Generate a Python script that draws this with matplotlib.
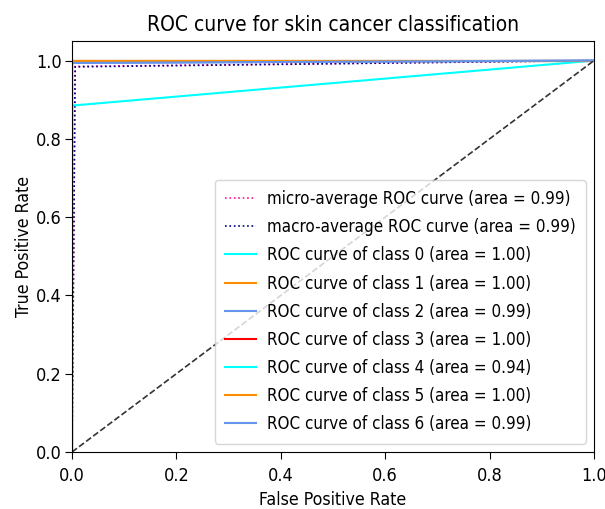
import matplotlib
matplotlib.use("Agg")
import matplotlib.pyplot as plt

plt.rcParams['font.family'] = ['DejaVu Sans']
plt.rcParams['font.stretch'] = 'condensed'

title = "ROC curve for skin cancer classification"
xlabel = "False Positive Rate"
ylabel = "True Positive Rate"

micro_fpr = [0.0, 0.006, 1.0]
micro_tpr = [0.0, 0.985, 1.0]
micro_auc = 0.99
macro_fpr = [0.0, 0.006, 1.0]
macro_tpr = [0.0, 0.984, 1.0]
macro_auc = 0.99

class_fpr = [
    [0.0, 0.0, 1.0],
    [0.0, 0.0, 1.0],
    [0.0, 0.0, 1.0],
    [0.0, 0.0, 1.0],
    [0.0, 0.0, 1.0],
    [0.0, 0.0, 1.0],
    [0.0, 0.0, 1.0],
]
class_tpr = [
    [0.0, 1.0, 1.0],
    [0.0, 1.0, 1.0],
    [0.0, 0.994, 1.0],
    [0.0, 1.0, 1.0],
    [0.0, 0.885, 1.0],
    [0.0, 1.0, 1.0],
    [0.0, 0.994, 1.0],
]
class_auc = [1.00, 1.00, 0.99, 1.00, 0.94, 1.00, 0.99]
class_colors = ['aqua', 'darkorange', 'cornflowerblue', 'red', 'aqua', 'darkorange', 'cornflowerblue']

fig = plt.figure(figsize=(6.05, 5.09), dpi=100)
ax = fig.add_axes([72/605, 57/509, 522/605, 411/509])

ax.plot(micro_fpr, micro_tpr, color='deeppink', linestyle=':', lw=1.2,
        label='micro-average ROC curve (area = {0:0.2f})'.format(micro_auc))
ax.plot(macro_fpr, macro_tpr, color='navy', linestyle=':', lw=1.2,
        label='macro-average ROC curve (area = {0:0.2f})'.format(macro_auc))
for i in range(len(class_fpr)):
    ax.plot(class_fpr[i], class_tpr[i], color=class_colors[i], lw=1.5,
            label='ROC curve of class {0} (area = {1:0.2f})'.format(i, class_auc[i]))
ax.plot([0, 1], [0, 1], linestyle='--', lw=1.2, color='#333333')

ax.set_xlim(0.0, 1.0)
ax.set_ylim(0.0, 1.05)
ax.set_xticks([0.0, 0.2, 0.4, 0.6, 0.8, 1.0])
ax.set_yticks([0.0, 0.2, 0.4, 0.6, 0.8, 1.0])
ax.tick_params(axis='x', labelsize=13, length=5, pad=6)
ax.tick_params(axis='y', labelsize=13, length=5, pad=2.5)
ax.set_xlabel(xlabel, fontsize=12.7, labelpad=4)
ax.set_ylabel(ylabel, fontsize=12.7, labelpad=2)
ax.set_title(title, fontsize=15, pad=7)
ax.legend(loc='lower right', fontsize=12.2, handlelength=1.8, handletextpad=0.65,
          borderaxespad=0.5, labelspacing=0.6, borderpad=0.6)

fig.savefig('out.png', dpi=100)
